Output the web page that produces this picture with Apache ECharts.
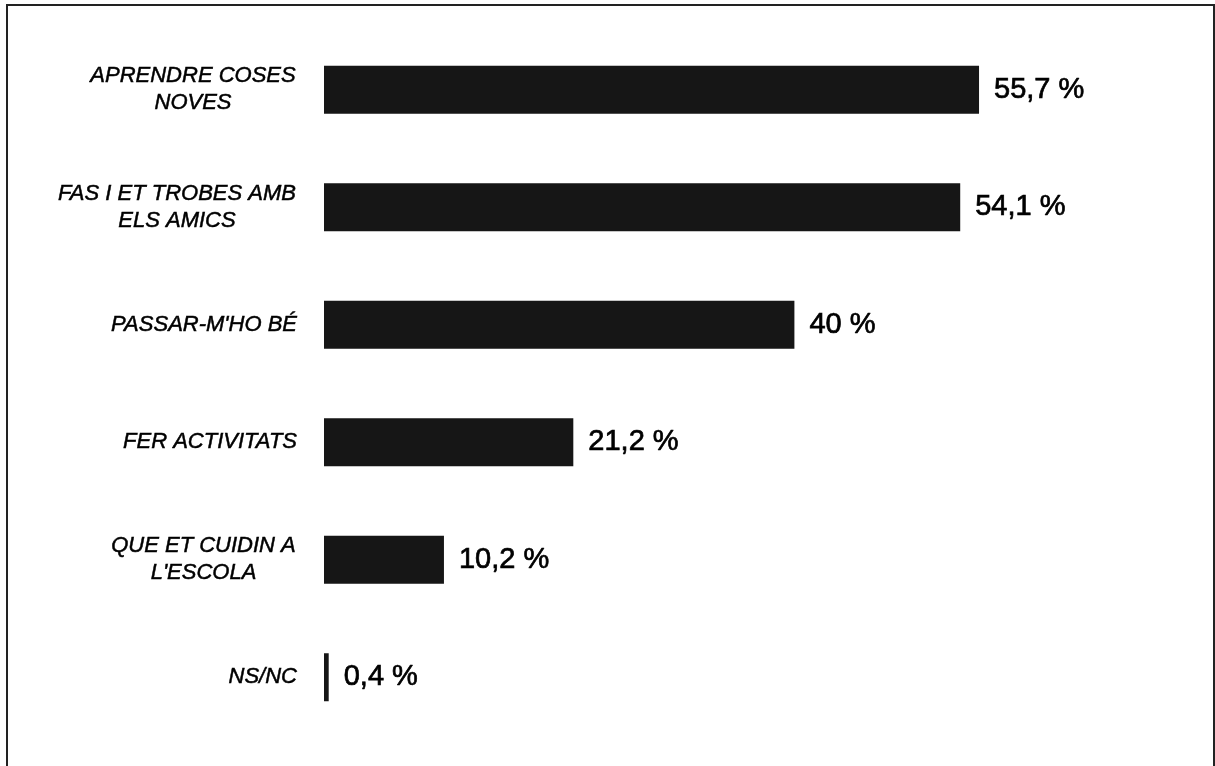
<!DOCTYPE html>
<html>
<head>
<meta charset="utf-8">
<script src="https://cdn.jsdelivr.net/npm/echarts@6/dist/echarts.min.js"></script>
<style>
html,body{margin:0;padding:0;background:#fff;}
#chart{width:1215px;height:766px;}
</style>
</head>
<body>
<div id="chart"></div>
<script>
const categories = [
  "APRENDRE COSES\nNOVES",
  "FAS I ET TROBES AMB\nELS AMICS",
  "PASSAR-M'HO BÉ",
  "FER ACTIVITATS",
  "QUE ET CUIDIN A\nL'ESCOLA",
  "NS/NC"
];
const values = [55.7, 54.1, 40, 21.2, 10.2, 0.4];
const valueLabels = ["55,7 %", "54,1 %", "40 %", "21,2 %", "10,2 %", "0,4 %"];

const labelFont = 'italic 22px "Liberation Sans"';
const cv = document.createElement('canvas').getContext('2d');
cv.font = labelFont;
const rich = {};
categories.forEach((c, i) => {
  const lines = c.split('\n');
  if (lines.length > 1) {
    const w = Math.max(...lines.map(l => cv.measureText(l).width));
    rich['l' + i] = { width: Math.ceil(w) + 2, align: 'center', fontSize: 22, fontStyle: 'italic', fontFamily: 'Liberation Sans', color: '#000', lineHeight: 27, textBorderColor: '#000', textBorderWidth: 0.5 };
  }
});

const chart = echarts.init(document.getElementById('chart'));
chart.setOption({
  animation: false,
  backgroundColor: '#fff',
  grid: { left: 324, right: 9, top: 31, bottom: 30, containLabel: false },
  xAxis: { type: 'value', min: 0, max: 75, show: false },
  yAxis: {
    type: 'category',
    data: categories,
    inverse: true,
    axisLine: { show: false },
    axisTick: { show: false },
    splitLine: { show: false },
    axisLabel: {
      margin: 27,
      fontSize: 22,
      fontStyle: 'italic',
      fontFamily: 'Liberation Sans',
      color: '#000',
      lineHeight: 27,
      align: 'right',
      textBorderColor: '#000',
      textBorderWidth: 0.5,
      rich: rich,
      formatter: (v, i) => {
        const lines = v.split('\n');
        if (lines.length > 1) return lines.map(l => '{l' + i + '|' + l + '}').join('\n');
        return v;
      }
    }
  },
  series: [{
    type: 'bar',
    data: values,
    barWidth: 48,
    itemStyle: { color: '#161616' },
    label: {
      show: true,
      position: 'right',
      distance: 15,
      fontSize: 29,
      fontFamily: 'Liberation Sans',
      color: '#000',
      textBorderColor: '#000',
      textBorderWidth: 0.7,
      formatter: p => valueLabels[p.dataIndex]
    }
  }],
  graphic: [{
    type: 'rect',
    shape: { x: 7, y: 5, width: 1207, height: 800 },
    style: { fill: 'none', stroke: '#222', lineWidth: 2 },
    silent: true
  }]
});
</script>
</body>
</html>
